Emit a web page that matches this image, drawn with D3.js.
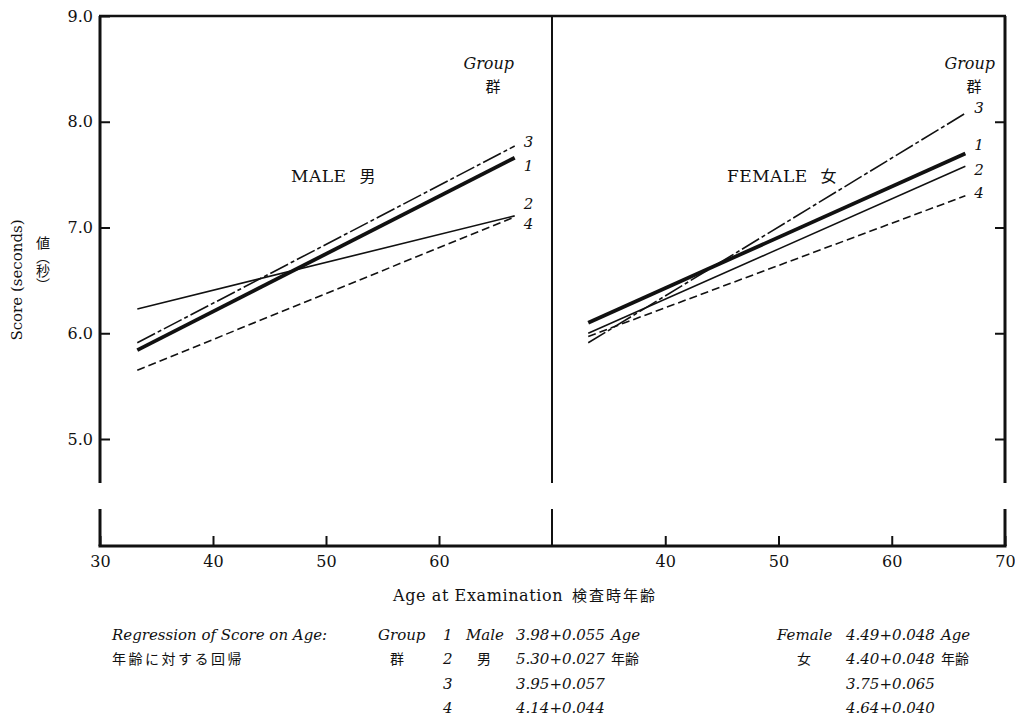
<!DOCTYPE html>
<html>
<head>
<meta charset="utf-8">
<script src="https://cdn.jsdelivr.net/npm/d3@7"></script>
<style>
body { margin: 0; background: #fff; }
svg { display: block; }
text { fill: #111; }
</style>
</head>
<body>
<div id="chart"></div>
<script>
// values
const xTicksLeft = [30, 40, 50, 60];
const xTicksRight = [40, 50, 60, 70];
const yTicks = [5, 6, 7, 8, 9];
const groups = ["1", "2", "3", "4"];

// line ends: age at start/end, score at start/end per group
const maleAges = [33.3, 66.7];
const maleStart = [5.84, 6.23, 5.91, 5.65];
const maleEnd = [7.66, 7.11, 7.77, 7.10];
const femaleAges = [33.2, 66.5];
const femaleStart = [6.10, 6.00, 5.91, 5.97];
const femaleEnd = [7.70, 7.58, 8.08, 7.30];

const maleEq = ["3.98+0.055 Age", "5.30+0.027 年齢", "3.95+0.057", "4.14+0.044"];
const femaleEq = ["4.49+0.048 Age", "4.40+0.048 年齢", "3.75+0.065", "4.64+0.040"];

const W = 1015, H = 728;
const serif = "'DejaVu Serif', 'Liberation Serif', serif";
const cjk = "'Noto Sans CJK JP', sans-serif";

const svg = d3.select("#chart")
.append("svg")
.attr("width", W)
.attr("height", H);

const xL = d3.scaleLinear().domain([30, 70]).range([100, 552]);
const xR = d3.scaleLinear().domain([30, 70]).range([552, 1005]);
const y = d3.scaleLinear().domain([5, 9]).range([439, 16]);
const breakTop = 483, breakBot = 509, baseY = 546;

// line styles per group
const widths = [3.8, 1.6, 1.6, 1.6];
const dashes = [null, null, "20,3,4,3", "8,4"];
// label nudges (px) for the group numbers at line ends
const maleLabelDy = [8, -12, -4, 7];
const femaleLabelDy = [-8, 4, -5, -3];

// frame: top line, vertical lines with break, baseline
const frame = svg.append("g")
.attr("stroke", "#111")
.attr("fill", "none");

frame.append("line")
.attr("x1", xL(30) - 1).attr("x2", xR(70) + 1)
.attr("y1", y(9)).attr("y2", y(9))
.attr("stroke-width", 2.5);

[[xL(30), 3], [xR(30), 2], [xR(70), 3]].forEach(([px, sw]) => {
	frame.append("line")
	.attr("x1", px).attr("x2", px)
	.attr("y1", y(9)).attr("y2", breakTop)
	.attr("stroke-width", sw);
	frame.append("line")
	.attr("x1", px).attr("x2", px)
	.attr("y1", breakBot).attr("y2", baseY)
	.attr("stroke-width", sw);
});

frame.append("line")
.attr("x1", xL(30) - 1.5).attr("x2", xR(70) + 1.5)
.attr("y1", baseY).attr("y2", baseY)
.attr("stroke-width", 3);

// y axis (left) with inward ticks
const yAxisL = svg.append("g")
.attr("transform", `translate(${xL(30)},0)`)
.call(d3.axisLeft(y).tickValues(yTicks).tickSize(-10).tickPadding(7).tickFormat(d3.format(".1f")));
yAxisL.select(".domain").remove();
yAxisL.selectAll("line").attr("stroke", "#111").attr("stroke-width", 2);
yAxisL.selectAll("text").style("font-family", serif).style("font-size", "16px").attr("fill", "#111");

// right axis ticks, no labels
const yAxisR = svg.append("g")
.attr("transform", `translate(${xR(70)},0)`)
.call(d3.axisRight(y).tickValues(yTicks.slice(0, 4)).tickSize(-10).tickFormat(""));
yAxisR.select(".domain").remove();
yAxisR.selectAll("line").attr("stroke", "#111").attr("stroke-width", 2);

// x axes
[[xL, xTicksLeft], [xR, xTicksRight]].forEach(([sc, tv]) => {
	const g = svg.append("g")
	.attr("transform", `translate(0,${baseY})`)
	.call(d3.axisBottom(sc).tickValues(tv).tickSize(-10).tickPadding(10));
	g.select(".domain").remove();
	g.selectAll("line").attr("stroke", "#111").attr("stroke-width", 2);
	g.selectAll("text").style("font-family", serif).style("font-size", "16px").attr("fill", "#111");
});

// regression lines
function drawPanel(sc, ages, starts, ends, labelDy, title, mark, groupX, titleX) {
	const rows = groups.map((g, i) => ({g: g, i: i, v0: starts[i], v1: ends[i]}));
	svg.append("g")
	.selectAll("line")
	.data(rows)
	.join("line")
	.attr("x1", d => sc(ages[0]))
	.attr("y1", d => y(d.v0))
	.attr("x2", d => sc(ages[1]))
	.attr("y2", d => y(d.v1))
	.attr("stroke", "#111")
	.attr("stroke-width", d => widths[d.i])
	.attr("stroke-dasharray", d => dashes[d.i]);

	svg.append("g")
	.selectAll("text")
	.data(rows)
	.join("text")
	.attr("x", sc(ages[1]) + 9)
	.attr("y", d => y(d.v1) + labelDy[d.i] + 5)
	.style("font-family", serif)
	.style("font-style", "italic")
	.style("font-size", "15px")
	.text(d => d.g);

	svg.append("text")
	.attr("x", groupX).attr("y", 69)
	.attr("text-anchor", "end")
	.style("font-family", serif)
	.style("font-style", "italic")
	.style("font-size", "16px")
	.text("Group");
	svg.append("text")
	.attr("x", groupX - 21).attr("y", 92)
	.attr("text-anchor", "middle")
	.style("font-family", cjk)
	.style("font-size", "15px")
	.text("群");

	const t = svg.append("text")
	.attr("x", titleX).attr("y", 182);
	t.append("tspan")
	.style("font-family", serif)
	.style("font-size", "17px")
	.style("letter-spacing", "0.5px")
	.text(title);
	t.append("tspan")
	.attr("dx", 13)
	.style("font-family", cjk)
	.style("font-size", "16px")
	.text(mark);
}

drawPanel(xL, maleAges, maleStart, maleEnd, maleLabelDy, "MALE", "男", 514, 291);
drawPanel(xR, femaleAges, femaleStart, femaleEnd, femaleLabelDy, "FEMALE", "女", 995, 727);

// y title
svg.append("text")
.attr("transform", "translate(22,280) rotate(-90)")
.attr("text-anchor", "middle")
.style("font-family", serif)
.style("font-size", "15px")
.text("Score (seconds)");
svg.append("text")
.attr("x", 43).attr("y", 236)
.style("font-family", cjk)
.style("font-size", "14px")
.style("writing-mode", "vertical-rl")
.text("値（秒）");

// x title
const xt = svg.append("text")
.attr("x", 393).attr("y", 601);
xt.append("tspan")
.style("font-family", serif)
.style("font-size", "16px")
.style("letter-spacing", "0.6px")
.text("Age at Examination");
xt.append("tspan")
.attr("dx", 9)
.style("font-family", cjk)
.style("font-size", "15px")
.style("letter-spacing", "2px")
.text("検査時年齢");

// regression table under the chart
const rowY = [640, 664, 689, 713];
const tbl = svg.append("g")
.style("font-family", serif)
.style("font-style", "italic")
.style("font-size", "15px");

tbl.append("text").attr("x", 112).attr("y", rowY[0]).text("Regression of Score on Age:");
tbl.append("text").attr("x", 112).attr("y", rowY[1])
.style("font-family", cjk).style("font-style", "normal").style("font-size", "14px")
.style("letter-spacing", "2.5px").text("年齢に対する回帰");

tbl.append("text").attr("x", 378).attr("y", rowY[0]).text("Group");
tbl.append("text").attr("x", 390).attr("y", rowY[1])
.style("font-family", cjk).style("font-style", "normal").style("font-size", "14px").text("群");

tbl.selectAll(".gnum")
.data(groups)
.join("text")
.attr("class", "gnum")
.attr("x", 443)
.attr("y", (d, i) => rowY[i])
.text(d => d);

tbl.append("text").attr("x", 466).attr("y", rowY[0]).text("Male");
tbl.append("text").attr("x", 477).attr("y", rowY[1])
.style("font-family", cjk).style("font-style", "normal").style("font-size", "14px").text("男");

tbl.append("text").attr("x", 777).attr("y", rowY[0]).text("Female");
tbl.append("text").attr("x", 797).attr("y", rowY[1])
.style("font-family", cjk).style("font-style", "normal").style("font-size", "14px").text("女");

function eqText(x, list) {
	list.forEach((s, i) => {
		const m = s.match(/^(\S+)( (.*))?$/);
		const t = tbl.append("text").attr("x", x).attr("y", rowY[i]);
		t.append("tspan").text(m[1]);
		if (m[3]) {
			const jp = /[^\x00-\x7f]/.test(m[3]);
			t.append("tspan").attr("dx", 6)
			.style("font-family", jp ? cjk : serif)
			.style("font-style", jp ? "normal" : "italic")
			.style("font-size", jp ? "14px" : "15px")
			.text(m[3]);
		}
	});
}
eqText(516, maleEq);
eqText(846, femaleEq);
</script>
</body>
</html>
